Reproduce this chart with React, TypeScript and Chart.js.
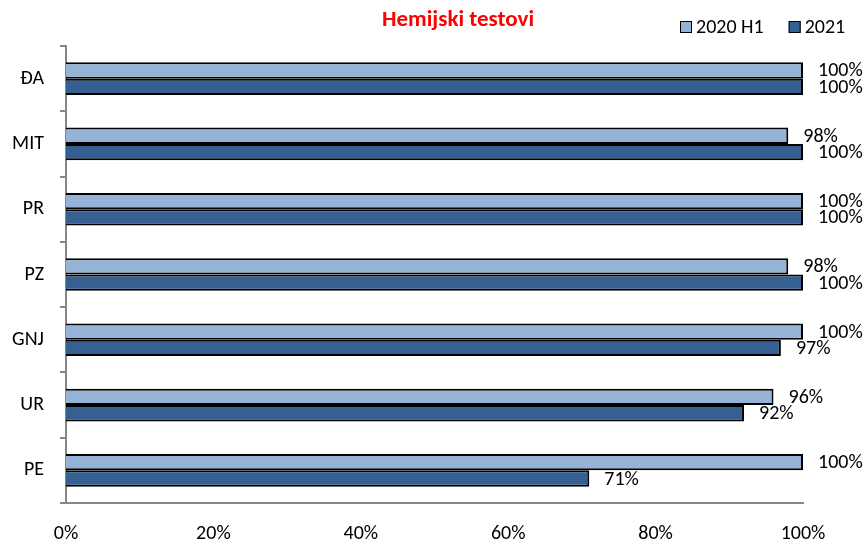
import React, { useEffect, useRef } from "react";
import { Chart, registerables } from "chart.js";

Chart.register(...registerables);

const categories = ["ĐA", "MIT", "PR", "PZ", "GNJ", "UR", "PE"];
const series2020H1 = [100, 98, 100, 98, 100, 96, 100];
const series2021 = [100, 100, 100, 100, 97, 92, 71];
const seriesNames = ["2020 H1", "2021"];
const xTicks = [0, 20, 40, 60, 80, 100];
const titleText = "Hemijski testovi";

const FONT = "Carlito, 'Liberation Sans', Arial, sans-serif";
const COLORS = ["#95B3D7", "#376092"];

export default function App() {
  const ref = useRef<HTMLCanvasElement | null>(null);

  useEffect(() => {
    if (!ref.current) return;

    const overlay = {
      id: "overlay",
      afterDatasetsDraw(chart: any) {
        const ctx = chart.ctx;
        ctx.save();
        // data labels
        ctx.font = `20px ${FONT}`;
        ctx.fillStyle = "#000";
        ctx.textAlign = "left";
        ctx.textBaseline = "middle";
        chart.data.datasets.forEach((ds: any, i: number) => {
          const meta = chart.getDatasetMeta(i);
          meta.data.forEach((el: any, j: number) => {
            ctx.fillText(Math.round(ds.data[j]) + "%", el.x + 15, el.y + 1);
          });
        });
        // title
        ctx.font = `bold 23px ${FONT}`;
        ctx.fillStyle = "#FF0000";
        ctx.textAlign = "center";
        ctx.fillText(titleText, 458, 20);
        // legend
        ctx.font = `20px ${FONT}`;
        ctx.textAlign = "left";
        let x = 680;
        chart.data.datasets.forEach((ds: any) => {
          ctx.fillStyle = ds.backgroundColor;
          ctx.fillRect(x, 21, 12, 12);
          ctx.strokeStyle = "#000";
          ctx.lineWidth = 1;
          ctx.strokeRect(x + 0.5, 21.5, 11, 11);
          ctx.fillStyle = "#000";
          ctx.fillText(ds.label, x + 16, 28);
          x += 16 + ctx.measureText(ds.label).width + 25;
        });
        ctx.restore();
      },
    };

    const chart = new Chart(ref.current, {
      type: "bar",
      data: {
        labels: categories,
        datasets: [
          {
            label: seriesNames[0],
            data: series2020H1,
            backgroundColor: COLORS[0],
            borderColor: "#000",
            borderWidth: 2,
            categoryPercentage: 0.5,
            barPercentage: 1,
          },
          {
            label: seriesNames[1],
            data: series2021,
            backgroundColor: COLORS[1],
            borderColor: "#000",
            borderWidth: 2,
            categoryPercentage: 0.5,
            barPercentage: 1,
          },
        ],
      },
      options: {
        indexAxis: "y",
        responsive: false,
        animation: false,
        layout: { padding: { top: 46, right: 64, left: 0, bottom: 0 } },
        plugins: {
          legend: { display: false },
          title: { display: false },
          tooltip: { enabled: false },
        },
        scales: {
          x: {
            min: 0,
            max: 100,
            afterBuildTicks(scale: any) {
              scale.ticks = xTicks.map((v) => ({ value: v }));
            },
            afterFit(scale: any) {
              scale.height = 539 - 503;
            },
            ticks: {
              callback: (v: any) => v + "%",
              color: "#000",
              font: { family: FONT, size: 20 },
              padding: 19,
              maxRotation: 0,
            },
            grid: { display: false, drawTicks: false },
            border: { color: "#868686", width: 2 },
          },
          y: {
            afterFit(scale: any) {
              scale.width = 66;
            },
            ticks: {
              color: "#000",
              font: { family: FONT, size: 20 },
              padding: 16,
            },
            grid: {
              drawOnChartArea: false,
              drawTicks: true,
              tickLength: 6,
              color: "#868686",
              lineWidth: 2,
              offset: true,
            },
            border: { color: "#868686", width: 2 },
          },
        },
      },
      plugins: [overlay],
    } as any);

    return () => chart.destroy();
  }, []);

  return (
    <div style={{ position: "absolute", left: 0, top: 0, width: 867, height: 539, background: "#fff" }}>
      <canvas ref={ref} width={867} height={539} />
    </div>
  );
}
